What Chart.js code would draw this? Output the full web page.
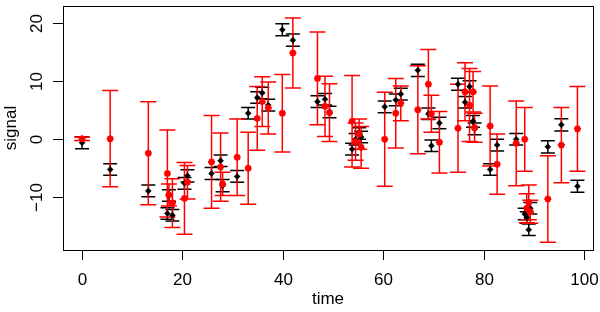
<!DOCTYPE html>
<html>
<head>
<meta charset="utf-8">
<script src="https://cdn.jsdelivr.net/npm/chart.js@4"></script>
<style>
  html, body { margin: 0; padding: 0; background: #fff; }
  canvas { display: block; }
</style>
</head>
<body>
<canvas id="chart" width="600" height="312"></canvas>
<script>
// time of each observation
const times = [0.0, 5.6, 13.2, 17.0, 17.3, 18.0, 20.4, 21.0, 25.8, 27.6, 28.0, 30.9,
  33.1, 34.9, 35.9, 37.1, 39.9, 42.0, 46.9, 48.4, 49.3, 53.8, 54.5, 55.2, 55.6,
  60.3, 62.5, 63.5, 66.9, 69.0, 69.6, 71.2, 74.9, 76.3, 77.2, 77.9, 78.2, 81.3,
  82.7, 86.5, 88.2, 88.6, 89.0, 89.3, 92.8, 95.5, 98.7];

// black series (signal) and its error
const blackValues = [-0.7, -5.3, -9.0, -12.9, -9.8, -13.2, -7.7, -6.4, -6.0, -3.8, -8.1, -6.5,
  4.4, 7.1, 7.9, 5.8, 18.8, 17.0, 6.4, 6.8, 4.6, -1.8, -0.1, 0.9, 0.3,
  5.5, 6.7, 7.7, 11.8, 4.3, -1.2, 2.7, 9.4, 6.3, 9.0, 3.0, 1.7, -5.3,
  -1.1, -0.1, -13.0, -13.6, -15.7, -12.0, -1.4, 2.4, -8.2];
const blackErrors = [1.05, 1.0, 1.0, 1.0, 1.0, 1.0, 1.0, 1.05, 1.05, 1.0, 1.05, 1.0,
  1.0, 1.0, 1.0, 1.0, 1.05, 1.05, 1.0, 1.0, 1.0, 1.0, 1.0, 1.0, 1.0,
  1.0, 1.0, 1.0, 1.05, 1.0, 1.0, 1.0, 1.05, 1.0, 1.0, 1.0, 1.0, 1.0,
  1.0, 1.0, 1.0, 1.0, 1.0, 1.0, 1.05, 1.05, 1.05];

// red series (estimate) and its error
const redValues = [0.0, 0.0, -2.5, -6.0, -9.7, -11.1, -10.3, -7.5, -4.0, -4.9, -7.8, -3.2,
  -5.1, 3.5, 6.4, 5.3, 4.4, 14.8, 10.4, 5.6, 4.5, 3.0, -0.5, 0.8, -1.5,
  -0.1, 4.4, 6.1, 5.0, 9.4, 4.3, -0.6, 1.8, 8.1, 5.8, 8.1, 1.9, 2.2,
  -4.4, -0.8, -0.1, -12.0, -11.0, -12.6, -10.4, -1.1, 1.7];
const redErrors = [0.3, 8.3, 8.9, 7.5, 1.9, 4.2, 6.2, 2.9, 8.0, 5.9, 2.0, 6.6,
  6.2, 5.5, 4.3, 4.5, 6.7, 6.05, 8.0, 5.2, 5.0, 7.9, 3.2, 2.6, 3.6,
  8.1, 6.0, 3.0, 7.6, 6.0, 3.2, 5.3, 7.6, 5.0, 6.3, 3.5, 2.5, 6.9,
  5.2, 7.3, 5.5, 2.5, 3.0, 2.0, 7.45, 6.5, 7.3];

const xTicks = [0, 20, 40, 60, 80, 100];
const yTicks = [-10, 0, 10, 20];

const FONT = '17px "Liberation Sans", Arial, sans-serif';

function toPoints(values, errors) {
    return times.map(function(t, i) {
        return { x: t, y: values[i], err: errors[i] };
    });
}

// draw error bars with caps, behind the points
const errorBarPlugin = {
    id: 'errorBars',
    beforeDatasetsDraw: function(chart) {
        const ctx = chart.ctx;
        const xs = chart.scales.x;
        const ys = chart.scales.y;
        const specs = [
            { index: 1, color: '#000000', cap: 7, width: 1.5 },
            { index: 0, color: '#ff0000', cap: 8, width: 1.5 }
        ];
        ctx.save();
        specs.forEach(function(spec) {
            const data = chart.data.datasets[spec.index].data;
            ctx.strokeStyle = spec.color;
            ctx.lineWidth = spec.width;
            data.forEach(function(p) {
                const px = xs.getPixelForValue(p.x);
                const top = ys.getPixelForValue(p.y + p.err);
                const bot = ys.getPixelForValue(p.y - p.err);
                ctx.beginPath();
                ctx.moveTo(px, top);
                ctx.lineTo(px, bot);
                ctx.moveTo(px - spec.cap, top);
                ctx.lineTo(px + spec.cap, top);
                ctx.moveTo(px - spec.cap, bot);
                ctx.lineTo(px + spec.cap, bot);
                ctx.stroke();
            });
        });
        ctx.restore();
    }
};

// R-style box, ticks and labels
const axesPlugin = {
    id: 'rAxes',
    afterDraw: function(chart) {
        const ctx = chart.ctx;
        const area = chart.chartArea;
        const xs = chart.scales.x;
        const ys = chart.scales.y;
        ctx.save();
        ctx.strokeStyle = '#000';
        ctx.fillStyle = '#000';
        ctx.lineWidth = 1;
        ctx.strokeRect(area.left + 0.5, area.top + 0.5, area.right - area.left, area.bottom - area.top);

        ctx.font = FONT;
        ctx.textAlign = 'center';
        ctx.textBaseline = 'middle';
        xTicks.forEach(function(v) {
            const px = Math.round(xs.getPixelForValue(v)) + 0.5;
            ctx.beginPath();
            ctx.moveTo(px, area.bottom);
            ctx.lineTo(px, area.bottom + 10);
            ctx.stroke();
            ctx.fillText(String(v), px, 280);
        });
        yTicks.forEach(function(v) {
            const py = Math.round(ys.getPixelForValue(v)) + 0.5;
            ctx.beginPath();
            ctx.moveTo(area.left - 10, py);
            ctx.lineTo(area.left, py);
            ctx.stroke();
            ctx.save();
            ctx.translate(37, py);
            ctx.rotate(-Math.PI / 2);
            ctx.fillText(v < 0 ? '\u2212' + Math.abs(v) : String(v), 0, 0);
            ctx.restore();
        });

        ctx.fillText('time', (area.left + area.right) / 2, 299);
        ctx.save();
        ctx.translate(11, (area.top + area.bottom) / 2);
        ctx.rotate(-Math.PI / 2);
        ctx.fillText('signal', 0, 0);
        ctx.restore();
        ctx.restore();
    }
};

document.addEventListener('DOMContentLoaded', function() {
    const canvas = document.getElementById('chart');
    new Chart(canvas, {
        type: 'scatter',
        data: {
            datasets: [{
                label: 'red',
                data: toPoints(redValues, redErrors),
                pointStyle: 'star',
                radius: 3.5,
                borderColor: '#ff0000',
                backgroundColor: '#ff0000',
                borderWidth: 2
            }, {
                label: 'black',
                data: toPoints(blackValues, blackErrors),
                pointStyle: 'rectRot',
                radius: 3,
                borderColor: '#000000',
                backgroundColor: '#000000',
                borderWidth: 0.5
            }]
        },
        options: {
            responsive: false,
            animation: false,
            events: [],
            layout: { padding: { left: 63, right: 7, top: 4, bottom: 62 } },
            scales: {
                x: { type: 'linear', display: false, min: -3.8, max: 101.8 },
                y: { type: 'linear', display: false, min: -19.2, max: 22.9 }
            },
            plugins: {
                legend: { display: false },
                tooltip: { enabled: false }
            }
        },
        plugins: [errorBarPlugin, axesPlugin]
    });
});
</script>
</body>
</html>
